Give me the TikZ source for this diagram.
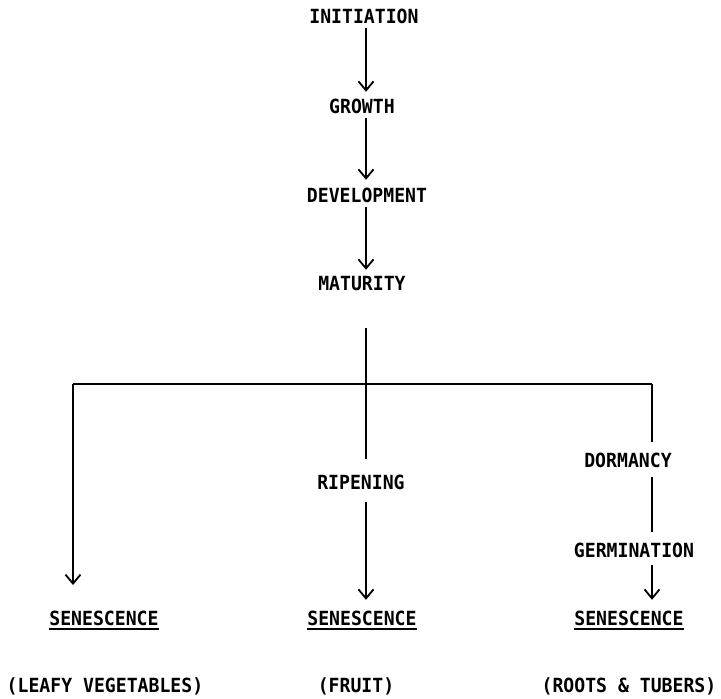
\documentclass[tikz,border=0pt]{standalone}
\usepackage{fontspec}
\newfontfamily\typew[FakeStretch=0.93]{DejaVu Sans Mono}
\usetikzlibrary{arrows.meta}
\begin{document}
\begin{tikzpicture}[x=1pt,y=-1pt,
  lbl/.style={inner sep=0pt, text height=14pt, text depth=0pt, font=\typew\bfseries\fontsize{19.5}{21}\selectfont},
  ln/.style={line width=1.8pt},
  arr/.style={line width=1.8pt, -{Straight Barb[length=9pt,width=15pt,line width=1.8pt]}},
  ul/.style={line width=1.6pt}]
\fill[white] (0,0) rectangle (721,699);
\useasboundingbox (0,0) rectangle (721,699);
% nodes
\node[lbl] (init) at (364,16) {INITIATION};
\node[lbl] (grow) at (362,106) {GROWTH};
\node[lbl] (dev) at (367,195) {DEVELOPMENT};
\node[lbl] (mat) at (362,283) {MATURITY};
\node[lbl] (rip) at (361,482) {RIPENING};
\node[lbl] (dorm) at (628,460) {DORMANCY};
\node[lbl] (germ) at (634,550) {GERMINATION};
\node[lbl] (senl) at (104,618) {SENESCENCE};
\node[lbl] (senm) at (362,618) {SENESCENCE};
\node[lbl] (senr) at (629,618) {SENESCENCE};
\node[lbl, text depth=3pt] (leafy) at (105,687) {(LEAFY VEGETABLES)};
\node[lbl, text depth=3pt] (fruit) at (356,687) {(FRUIT)};
\node[lbl, text depth=3pt] (roots) at (629,687) {(ROOTS \& TUBERS)};
% junction coordinates
\coordinate (jc) at (366,384);
\coordinate (jl) at (73,384);
\coordinate (jr) at (652,384);
\coordinate (lt) at (73,585);
% main stem
\draw[arr, shorten <=5pt, shorten >=7pt] (init.south -| jc) -- (grow.north -| jc);
\draw[arr, shorten <=5pt, shorten >=8pt] (grow.south -| jc) -- (dev.north -| jc);
\draw[arr, shorten <=5pt, shorten >=6pt] (dev.south -| jc) -- (mat.north -| jc);
\draw[ln, shorten <=38pt] (mat.south -| jc) -- (jc);
\draw[ln] (jl) -- (jr);
% left branch
\draw[arr] (jl) -- (lt);
% middle branch
\draw[ln, shorten >=16pt] (jc) -- (rip.north -| jc);
\draw[arr, shorten <=13pt, shorten >=11pt] (rip.south -| jc) -- (senm.north -| jc);
% right branch
\draw[ln, shorten >=11pt] (jr) -- (dorm.north -| jr);
\draw[ln, shorten <=10pt, shorten >=11pt] (dorm.south -| jr) -- (germ.north -| jr);
\draw[arr, shorten <=8pt, shorten >=11pt] (germ.south -| jr) -- (senr.north -| jr);
% underlines
\foreach \n in {senl,senm,senr}
  \draw[ul] ([yshift=-4pt]\n.south west) -- ([yshift=-4pt]\n.south east);
\end{tikzpicture}
\end{document}
